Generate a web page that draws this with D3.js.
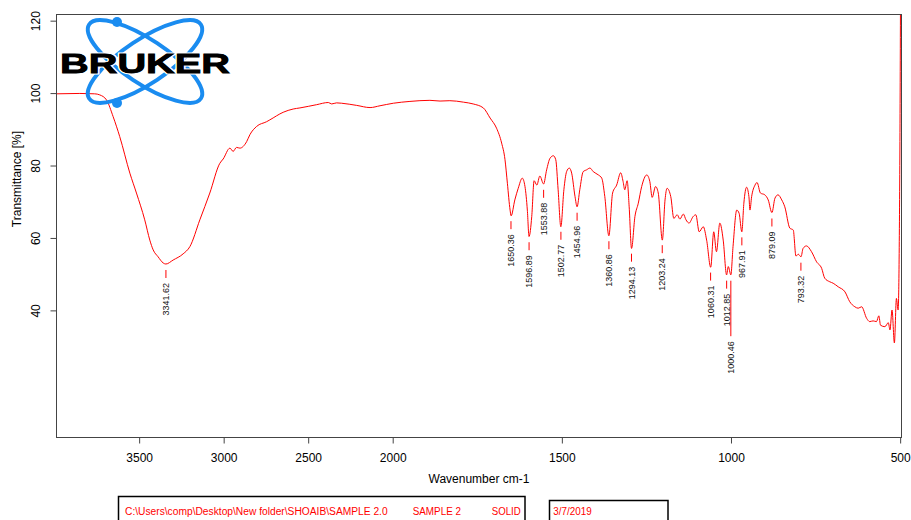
<!DOCTYPE html>
<html><head><meta charset="utf-8">
<script src="https://cdn.jsdelivr.net/npm/d3@7"></script>
<style>
body{margin:0;background:#fff}
svg{display:block}
text{font-family:"Liberation Sans",Arial,sans-serif}
</style>
</head><body>
<svg id="c" width="911" height="520"></svg>
<script>
// ---- data ----
const wavenumber=[3988,3851,3763,3733,3693,3654,3615,3555,3516,3467,3437,3417,3388,3358,3342,3299,3240,3200,3141,3082,
3023,3003,2963,2944,2924,2904,2864,2845,2805,2746,2727,2648,2589,2549,2450,2381,2361,2332,2302,2213,
2134,2075,1998,1949,1890,1860,1831,1791,1762,1732,1712,1693,1678,1668,1661,1653,1650,1639,1629,1617,
1609,1602,1597,1589,1582,1574,1565,1554,1545,1535,1525,1518,1511,1503,1494,1486,1478,1471,1461,1455,
1447,1437,1427,1417,1407,1392,1382,1373,1361,1350,1338,1326,1319,1314,1307,1301,1294,1284,1274,1264,
1249,1240,1233,1223,1215,1203,1195,1189,1178,1169,1159,1151,1141,1133,1124,1112,1104,1094,1082,1072,
1060,1051,1043,1033,1023,1013,1008,1000.5,994,983,976,968,962,954,947,944,939,929,923,913,
900,890,879,870,861,850,841,826,816,808,801,793,787,777,762,747,732,723,708,698,
683,663,649,634,624,614,599,590,580,570,563,558,545,535,530,524,517,511,506,501,499];
const transmittance=[99.8,99.9,99.8,99.5,98.1,93.5,88.0,77.9,72.4,65.0,59.4,56.7,54.8,53.1,52.8,53.9,55.6,57.6,65.0,72.4,
80.6,81.8,84.8,83.9,85.0,84.8,86.6,88.5,90.8,92.1,92.6,94.7,95.6,95.9,96.8,97.4,97.0,97.3,97.2,96.6,
96.0,96.5,97.2,97.7,98.0,97.8,97.9,97.5,97.0,95.9,93.1,90.3,86.2,81.6,75.1,67.7,66.1,70.5,73.7,76.5,
74.2,67.7,60.4,65.9,75.8,74.6,77.1,74.9,78.8,82.0,82.7,81.6,73.3,63.1,73.3,78.3,79.3,77.9,71.4,68.6,
73.3,78.3,78.8,79.3,78.3,77.4,76.5,71.4,60.6,72.4,74.6,78.0,75.6,73.3,75.8,68.6,57.1,65.9,69.6,74.2,
77.4,75.6,71.2,74.2,72.4,59.4,70.5,73.7,71.4,65.4,66.4,65.2,66.6,65.0,64.1,65.9,66.4,61.7,63.1,59.4,
51.9,61.7,56.2,64.1,59.4,49.8,52.1,49.8,57.6,67.7,66.8,61.7,69.6,74.0,71.4,67.7,71.4,74.6,75.3,72.4,
71.9,70.5,67.0,71.0,71.9,70.5,68.6,62.7,62.2,55.0,55.5,54.8,57.1,57.8,56.2,53.4,51.6,48.9,47.9,47.5,
46.5,45.1,42.4,41.0,40.6,41.0,37.8,36.9,37.1,36.9,38.5,35.9,35.5,36.6,34.6,40.1,31.0,43.3,40.1,80,125];
const peakLabels=[3341.62,1650.36,1596.89,1553.88,1502.77,1454.96,1360.86,1294.13,1203.24,1060.31,1012.85,1000.46,967.91,879.09,793.32];
const xTicks=[3500,3000,2500,2000,1500,1000,500];
const yTicks=[40,60,80,100,120];
const xTitle="Wavenumber cm-1";
const yTitle="Transmittance [%]";
const logoText="BRUKER";
const infoPath="C:\\Users\\comp\\Desktop\\New folder\\SHOAIB\\SAMPLE 2.0";
const infoSample="SAMPLE 2";
const infoState="SOLID";
const infoDate="3/7/2019";

// ---- layout ----
const L=56.5,R=901.5,T=14.5,B=437.5;
const svg=d3.select("#c");
const x=d3.scaleLinear().domain([3989,2000,496]).range([L,392.7,R]);
const y=d3.scaleLinear().domain([4.9,121.7]).range([B,T]);
const frameCol="#444";

const data=wavenumber.map((w,i)=>({w,t:transmittance[i]}));
function tAt(w){
  for(let i=0;i<data.length-1;i++){
    const a=data[i],b=data[i+1];
    if(w<=a.w&&w>=b.w){const f=(a.w-w)/(a.w-b.w);return a.t+f*(b.t-a.t);}
  }
  return data[data.length-1].t;
}

svg.append("defs").append("clipPath").attr("id","plot")
  .append("rect").attr("x",L).attr("y",T).attr("width",R-L).attr("height",B-T);

// axes
const gx=svg.append("g").attr("transform",`translate(0,${B})`)
  .call(d3.axisBottom(x).tickValues(xTicks).tickSize(6).tickPadding(10).tickFormat(d3.format("d")));
gx.select(".domain").remove();
gx.selectAll("line").attr("stroke",frameCol);
gx.selectAll("text").attr("font-size",12).attr("fill","#000");

const gy=svg.append("g").attr("transform",`translate(${L},0)`)
  .call(d3.axisLeft(y).tickValues(yTicks).tickSize(6));
gy.select(".domain").remove();
gy.selectAll("line").attr("stroke",frameCol);
gy.selectAll("text").attr("font-size",12).attr("fill","#000")
  .attr("x",0).attr("dy","0.35em").attr("text-anchor","middle")
  .attr("transform","translate(-20.5,0) rotate(-90)");
svg.selectAll("g").attr("font-family",null);

// spectrum
svg.append("path").datum(data)
  .attr("clip-path","url(#plot)")
  .attr("fill","none").attr("stroke","#ff0000").attr("stroke-width",1)
  .attr("d",d3.line().x(d=>x(d.w)).y(d=>y(d.t)).curve(d3.curveMonotoneX));

// frame
svg.append("rect").attr("x",L).attr("y",T).attr("width",R-L).attr("height",B-T)
  .attr("fill","none").attr("stroke",frameCol).attr("stroke-width",1);

// peak labels
const gp=svg.append("g");
let prev=null;
peakLabels.forEach(w=>{
  const px=x(w), py=y(tAt(w));
  let top=py+19;
  if(prev&&Math.abs(px-prev.px)<11&&top<prev.bottom+15) top=prev.bottom+15;
  gp.append("line").attr("x1",px).attr("x2",px).attr("y1",py+6).attr("y2",top-5)
    .attr("stroke","#ff0000").attr("stroke-width",1);
  const t=gp.append("text").attr("transform",`translate(${px},${top}) rotate(-90)`)
    .attr("text-anchor","end").attr("dy","0.35em").attr("font-size",9).attr("fill","#111")
    .text(w.toFixed(2));
  const len=t.node().getComputedTextLength();
  prev={px,bottom:top+len};
});

// titles
svg.append("text").attr("x",(L+R)/2).attr("y",483).attr("text-anchor","middle")
  .attr("font-size",12).text(xTitle);
svg.append("text").attr("transform","translate(21,179) rotate(-90)").attr("text-anchor","middle")
  .attr("font-size",12).text(yTitle);

// logo
const blue="#1a8cf0";
const lg=svg.append("g");
[33.5,-33.5].forEach(a=>{
  lg.append("ellipse").attr("cx",0).attr("cy",0).attr("rx",67).attr("ry",22)
    .attr("transform",`translate(145,61.5) rotate(${a})`)
    .attr("fill","none").attr("stroke",blue).attr("stroke-width",4);
});
lg.append("circle").attr("cx",117).attr("cy",22).attr("r",5).attr("fill",blue);
lg.append("circle").attr("cx",117).attr("cy",103).attr("r",5).attr("fill",blue);
lg.append("text").attr("x",60).attr("y",73).attr("textLength",170).attr("lengthAdjust","spacingAndGlyphs")
  .attr("font-family","DejaVu Sans").attr("font-weight","bold").attr("font-size",27.5)
  .attr("fill","#000").attr("stroke","#fff").attr("stroke-width",3).attr("paint-order","stroke")
  .text(logoText);
lg.append("text").attr("x",60).attr("y",73).attr("textLength",170).attr("lengthAdjust","spacingAndGlyphs")
  .attr("font-family","DejaVu Sans").attr("font-weight","bold").attr("font-size",27.5)
  .attr("fill","#000").attr("stroke","#000").attr("stroke-width",0.8)
  .text(logoText);

// info boxes
svg.append("rect").attr("x",118.5).attr("y",496.5).attr("width",406.5).attr("height",40)
  .attr("fill","none").attr("stroke","#000").attr("stroke-width",1.5);
svg.append("rect").attr("x",549.5).attr("y",500.5).attr("width",118.5).attr("height",40)
  .attr("fill","none").attr("stroke","#000").attr("stroke-width",1.5);
const info=[[infoPath,125,263],[infoSample,412.7,48.3],[infoState,491.7,29],[infoDate,553.3,38.4]];
info.forEach(([s,xx,len])=>{
  const t=svg.append("text").attr("x",0).attr("y",0).attr("font-size",11.5).attr("fill","#ff0000").text(s);
  const nat=t.node().getComputedTextLength();
  t.attr("transform",`translate(${xx},515) scale(${len/nat},1)`);
});
</script>
</body></html>
